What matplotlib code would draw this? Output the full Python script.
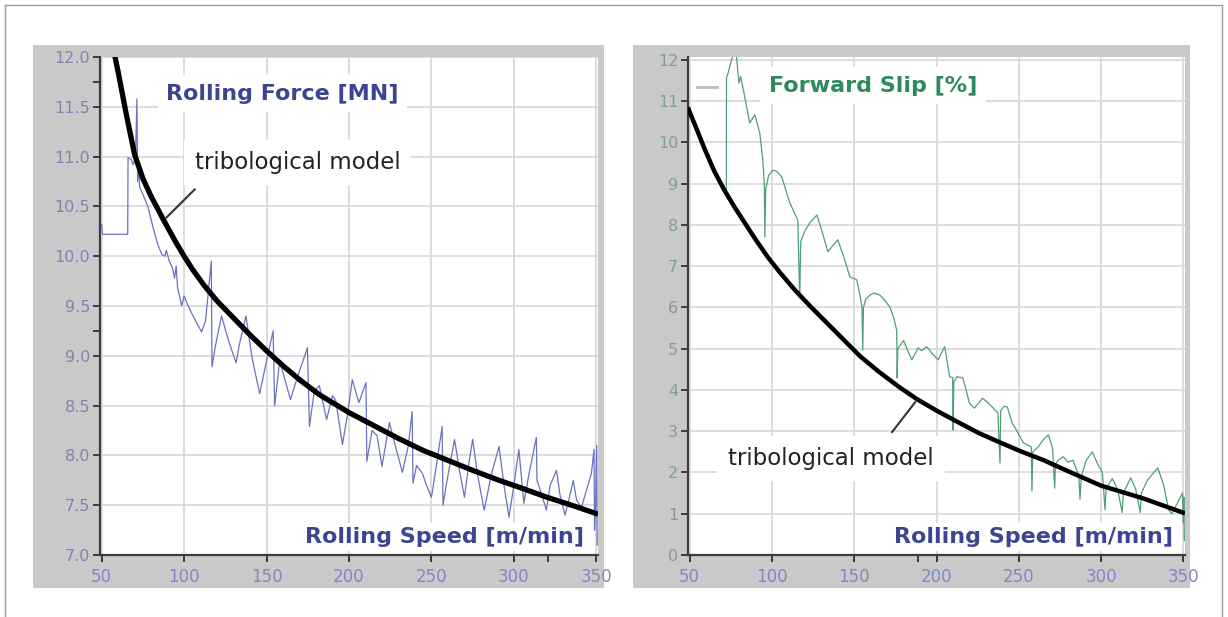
import numpy as np
import matplotlib.pyplot as plt
from matplotlib.patches import Rectangle
from matplotlib.lines import Line2D
from matplotlib.ticker import FixedLocator, FormatStrFormatter

# -------------------------
# Dados
# -------------------------

speed_ticks = [50, 100, 150, 200, 250, 300, 350]
force_ticks = [7.0, 7.5, 8.0, 8.5, 9.0, 9.5, 10.0, 10.5, 11.0, 11.5, 12.0]
slip_ticks = [0, 1, 2, 3, 4, 5, 6, 7, 8, 9, 10, 11, 12]

# forca de laminacao medida [MN]
force_x = [50, 50.5, 65.8, 66, 68, 69, 70.5, 71.4, 71.8, 72.5, 73, 75, 78, 81, 84,
           86.4, 88.4, 89.2, 91, 93, 94.2, 95.2, 96, 98.5, 100, 102, 106, 110.6,
           113, 116.5, 116.9, 119, 122.7, 127, 131.5, 134, 137.5, 141, 145.8, 150,
           154, 154.9, 158, 164.5, 169, 174.8, 176, 179, 182, 186.4, 190, 192, 196,
           199, 202, 206, 210.3, 210.8, 214, 217, 220, 224.5, 228, 232.4, 236,
           238.3, 238.8, 241, 244.5, 247, 250, 253, 256.5, 257, 260, 264, 267, 270,
           272.5, 275, 278, 282, 285, 287, 291, 294, 297, 300, 303, 306, 309,
           313.6, 314, 317, 319.7, 322, 325.8, 328, 331, 334, 336, 338, 341, 344,
           347, 348.6, 348.9, 349.5, 350.2, 350.5]
force_y = [10.32, 10.22, 10.22, 10.99, 10.97, 10.92, 10.98, 11.58, 10.75, 10.9, 10.7,
           10.62, 10.5, 10.3, 10.12, 10.02, 10.0, 10.06, 9.95, 9.88, 9.78, 9.9,
           9.69, 9.5, 9.6, 9.52, 9.38, 9.24, 9.35, 9.95, 8.89, 9.1, 9.4, 9.15, 8.93,
           9.15, 9.4, 9.0, 8.62, 8.95, 9.25, 8.5, 8.95, 8.56, 8.8, 9.08, 8.29, 8.65,
           8.7, 8.36, 8.6, 8.55, 8.11, 8.4, 8.76, 8.53, 8.73, 7.94, 8.25, 8.2, 7.89,
           8.33, 8.1, 7.83, 8.1, 8.44, 7.72, 7.9, 7.82, 7.7, 7.58, 7.9, 8.29, 7.5,
           7.8, 8.16, 7.85, 7.58, 7.9, 8.16, 7.8, 7.45, 7.7, 7.85, 8.09, 7.7, 7.38,
           7.7, 8.06, 7.52, 7.8, 8.18, 7.75, 7.6, 7.45, 7.7, 7.85, 7.6, 7.4, 7.6,
           7.75, 7.55, 7.48, 7.65, 7.82, 8.06, 7.25, 7.5, 8.1, 7.1]

# modelo tribologico (forca)
model_force_x = [57.5, 60, 65, 70, 75, 80, 88, 95, 100, 105, 112, 120, 130, 140, 150,
                 160, 170, 182, 200, 215, 230, 245, 260, 275, 291, 305, 320, 335, 351]
model_force_y = [12.05, 11.85, 11.42, 11.02, 10.78, 10.6, 10.35, 10.14, 10.0, 9.87,
                 9.71, 9.55, 9.38, 9.21, 9.05, 8.9, 8.76, 8.61, 8.43, 8.3, 8.17, 8.05,
                 7.95, 7.85, 7.75, 7.67, 7.58, 7.5, 7.41]

# escorregamento avancado medido [%]
slip_x = [72.3, 72.4, 73.5, 75.4, 77, 78.4, 80, 81, 83, 86.5, 89.6, 92.6, 94.4, 95.4,
          95.7, 96.2, 98, 100.5, 103, 106, 108, 110.9, 113, 115.7, 116.9, 117.5, 120,
          123, 127.3, 130, 134, 137, 140, 143, 147.4, 151.6, 153.5, 154.7, 155.2,
          155.6, 157, 159.6, 162, 165.6, 168, 171.7, 174, 175.8, 176.1, 176.5, 179,
          180, 182, 185, 188.8, 191, 194, 197, 201, 203, 205, 208, 209.8, 210.1,
          210.5, 212.5, 216, 218, 220, 223, 228, 231, 233.8, 237.3, 238.6, 239, 241,
          243, 246, 249, 252.7, 257.6, 258, 258.5, 261.8, 265, 268, 270.5, 271.8,
          272.3, 274, 277, 280, 283, 286.5, 287.2, 288, 291, 294.7, 298, 300.8,
          302.4, 303, 306.8, 310, 312.8, 313.5, 318, 321, 323.8, 324.5, 328, 331,
          334.5, 338, 341, 343, 346.4, 349.5, 350, 350.3, 350.6]
slip_y = [8.85, 11.56, 11.7, 12.0, 12.15, 12.1, 11.44, 11.6, 11.2, 10.47, 10.67, 10.23,
          9.6, 9.0, 7.71, 8.85, 9.2, 9.33, 9.3, 9.16, 8.9, 8.53, 8.35, 8.12, 6.23,
          7.6, 7.85, 8.05, 8.24, 7.9, 7.35, 7.5, 7.64, 7.3, 6.74, 6.67, 6.3, 6.01,
          4.97, 6.0, 6.2, 6.3, 6.35, 6.3, 6.2, 6.01, 5.75, 5.45, 4.29, 5.0, 5.14,
          5.2, 5.0, 4.73, 5.02, 4.95, 5.05, 4.9, 4.73, 4.9, 5.05, 4.32, 4.3, 3.03,
          4.2, 4.32, 4.29, 4.0, 3.68, 3.56, 3.8, 3.7, 3.59, 3.44, 2.23, 3.5, 3.6,
          3.59, 3.2, 3.0, 2.72, 2.62, 1.55, 2.5, 2.62, 2.8, 2.91, 2.6, 1.62, 2.2,
          2.3, 2.38, 2.25, 2.3, 1.9, 1.35, 1.9, 2.3, 2.5, 2.2, 2.0, 1.1, 1.6, 1.85,
          1.6, 1.03, 1.5, 1.87, 1.6, 1.03, 1.5, 1.8, 1.95, 2.11, 1.7, 1.1, 1.0,
          1.26, 1.5, 0.78, 1.4, 0.35]

# modelo tribologico (escorregamento)
model_slip_x = [49, 50, 55, 59, 65, 71, 77, 83.5, 90, 97.5, 105, 114, 123, 132, 140,
                146, 153.5, 165, 177, 188, 200, 214, 226, 239, 252, 265, 280, 300,
                325, 351]
model_slip_y = [10.85, 10.74, 10.25, 9.85, 9.3, 8.85, 8.45, 8.05, 7.65, 7.22, 6.84,
                6.42, 6.04, 5.68, 5.36, 5.12, 4.82, 4.44, 4.08, 3.78, 3.5, 3.2, 2.95,
                2.72, 2.5, 2.3, 2.03, 1.68, 1.38, 1.01]

# -------------------------
# Cores
# -------------------------

frame_gray = '#c9c9c9'
grid_gray = '#dadada'
axis_dark = '#3c3c3c'
blue_title = '#3d4592'
green_title = '#2e8a5c'

# -------------------------
# Figura
# -------------------------

W, H = 1228, 617
fig = plt.figure(figsize=(W / 100, H / 100), dpi=100)
fig.patch.set_facecolor('white')

# borda fina da figura
for xs, ys in [([5, 5], [5, H]), ([5, W - 6], [5, 5]), ([W - 6, W - 6], [5, H])]:
    fig.add_artist(Line2D([x / W for x in xs], [1 - y / H for y in ys],
                          color='#9a9a9a', lw=1.0))

# molduras cinzas dos dois paineis
fig.add_artist(Rectangle((33 / W, 1 - 588 / H), 571 / W, 543 / H,
                         facecolor=frame_gray, edgecolor='none', zorder=0))
fig.add_artist(Rectangle((633 / W, 1 - 588 / H), 557 / W, 543 / H,
                         facecolor=frame_gray, edgecolor='none', zorder=0))


def style_axes(ax, label_color):
    ax.set_facecolor('white')
    for s in ['top', 'right']:
        ax.spines[s].set_visible(False)
    for s in ['left', 'bottom']:
        ax.spines[s].set_color(axis_dark)
        ax.spines[s].set_linewidth(1.6)
    ax.grid(True, color=grid_gray, lw=1.3, zorder=0)
    ax.set_axisbelow(True)
    ax.tick_params(axis='both', which='both', direction='out', length=5,
                   width=1.4, color=axis_dark)
    ax.tick_params(axis='y', labelsize=11.5, labelcolor=label_color, pad=2)
    ax.tick_params(axis='x', labelsize=12, labelcolor='#8088c4', pad=4)


# -------------------------
# Painel esquerdo: forca
# -------------------------

ax1 = fig.add_axes([100 / W, 1 - 555 / H, 498 / W, 498 / H])
style_axes(ax1, '#8085b0')
ax1.set_xlim(49, 351)
ax1.set_ylim(7.0, 12.0)
ax1.set_xticks(speed_ticks)
ax1.set_yticks(force_ticks)
ax1.yaxis.set_major_formatter(FormatStrFormatter('%.1f'))
ax1.xaxis.set_minor_locator(FixedLocator([320.5]))
ax1.yaxis.set_minor_locator(FixedLocator([9.25, 11.75]))

ax1.plot(force_x, force_y, color='#6a72bf', lw=0.9, zorder=3)
ax1.plot(model_force_x, model_force_y, color='black', lw=3.8, zorder=4,
         solid_capstyle='butt')

ax1.text(159.7, 11.63, 'Rolling Force [MN]', color=blue_title, fontsize=16,
         fontweight='bold', ha='center', va='center', zorder=2,
         bbox=dict(facecolor='white', edgecolor='none', pad=6))
ax1.text(168.8, 10.94, 'tribological model', color='#222222', fontsize=16.5,
         ha='center', va='center', zorder=2,
         bbox=dict(facecolor='white', edgecolor='none', pad=8))
ax1.plot([106.4, 89.4], [10.67, 10.39], color='#333333', lw=1.5, zorder=4)
ax1.text(257.9, 7.18, 'Rolling Speed [m/min]', color=blue_title, fontsize=16,
         fontweight='bold', ha='center', va='center', zorder=2,
         bbox=dict(facecolor='white', edgecolor='none', pad=3))

# -------------------------
# Painel direito: escorregamento
# -------------------------

ax2 = fig.add_axes([688 / W, 1 - 555 / H, 497 / W, 498 / H])
style_axes(ax2, '#7fa08e')
ax2.set_xlim(49, 351)
ax2.set_ylim(0, 12.07)
ax2.set_xticks(speed_ticks)
ax2.set_yticks(slip_ticks)
ax2.xaxis.set_minor_locator(FixedLocator([188.5]))

ax2.plot(slip_x, slip_y, color='#4e9f74', lw=0.9, zorder=3)
ax2.plot(model_slip_x, model_slip_y, color='black', lw=3.2, zorder=4,
         solid_capstyle='butt')

ax2.plot([54.3, 66.4], [11.35, 11.35], color='#bdbdbd', lw=2, zorder=2)
ax2.text(161.4, 11.37, 'Forward Slip [%]', color=green_title, fontsize=16,
         fontweight='bold', ha='center', va='center', zorder=2,
         bbox=dict(facecolor='white', edgecolor='none', pad=6))
ax2.text(135.8, 2.35, 'tribological model', color='#222222', fontsize=16.5,
         ha='center', va='center', zorder=2,
         bbox=dict(facecolor='white', edgecolor='none', pad=8))
ax2.plot([173, 187], [2.98, 3.7], color='#333333', lw=1.5, zorder=4)
ax2.text(259, 0.44, 'Rolling Speed [m/min]', color=blue_title, fontsize=16,
         fontweight='bold', ha='center', va='center', zorder=2,
         bbox=dict(facecolor='white', edgecolor='none', pad=3))

fig.savefig('out.png', dpi=100)
